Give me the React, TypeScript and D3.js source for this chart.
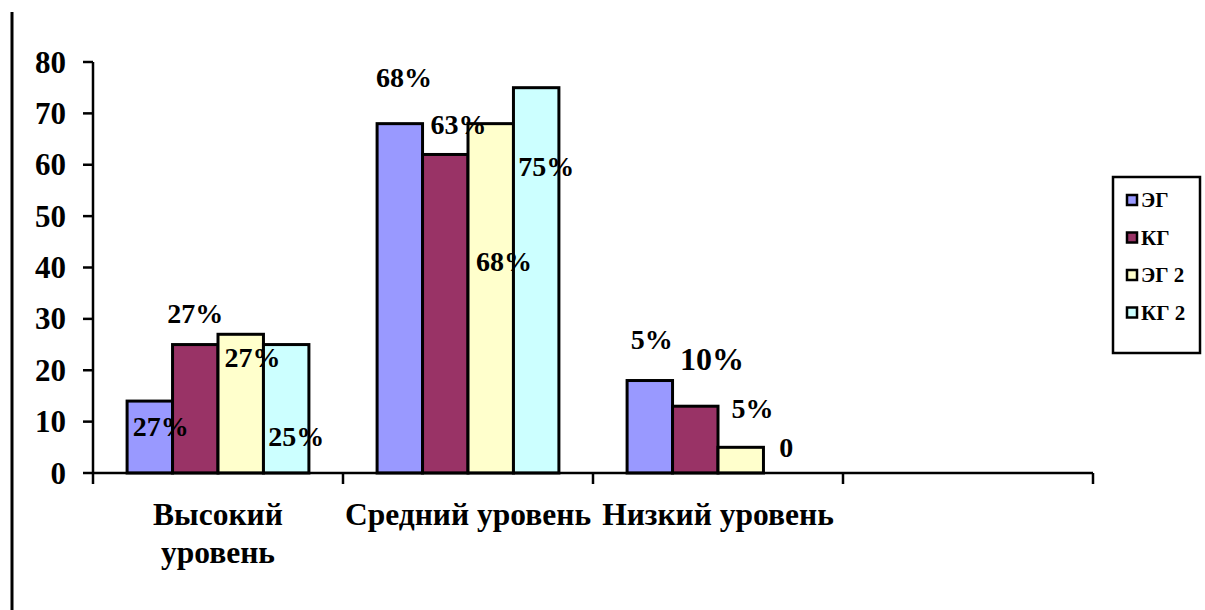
import React from "react";
import * as d3 from "d3";

// Categories along the x axis (the fourth slot is left empty)
const categories = ["Высокий уровень", "Средний уровень", "Низкий уровень", ""];
const categoryLines = [["Высокий", "уровень"], ["Средний уровень"], ["Низкий уровень"], []];

const seriesNames = ["ЭГ", "КГ", "ЭГ 2", "КГ 2"];
const seriesColors = ["#9999FF", "#993366", "#FFFFCC", "#CCFFFF"];

// Bar heights per series, one value per filled category
const valuesEG = [14, 68, 18];
const valuesKG = [25, 62, 13];
const valuesEG2 = [27, 68, 5];
const valuesKG2 = [25, 75, 0];

// Percentage captions attached to each bar
const labelsEG = ["27%", "68%", "5%"];
const labelsKG = ["27%", "63%", "10%"];
const labelsEG2 = ["27%", "68%", "5%"];
const labelsKG2 = ["25%", "75%", "0"];

// Where each caption sits: level on the value axis and shift in bar widths
const levelEG = [9.1, 76.9, 25.9];
const levelKG = [31.1, 67.9, 22.2];
const levelEG2 = [22.5, 41.2, 12.5];
const levelKG2 = [7.2, 59.7, 5.0];
const shiftEG = [0.24, 0.09, 0.04];
const shiftKG = [0, 0.29, 0.37];
const shiftEG2 = [0.26, 0.29, 0.26];
const shiftKG2 = [0.22, 0.22, 0];

const yTicks = [0, 10, 20, 30, 40, 50, 60, 70, 80];

const W = 1205;
const H = 610;
const FONT = '"Liberation Serif", "DejaVu Serif", "Times New Roman", serif';

export default function App() {
  const plot = { left: 93, right: 1093, top: 62, bottom: 473 };
  const x = d3.scaleBand<string>().domain(categories.map((c, i) => String(i))).range([plot.left, plot.right]).padding(0);
  const slot = x.bandwidth();
  const barW = slot / (4 + 1.5);
  const gap = 1.5 * barW;
  const xs = d3.scaleBand<string>().domain(seriesNames).range([gap / 2, slot - gap / 2]).padding(0);
  const y = d3.scaleLinear().domain([0, 80]).range([plot.bottom, plot.top]);

  const values = [valuesEG, valuesKG, valuesEG2, valuesKG2];
  const labels = [labelsEG, labelsKG, labelsEG2, labelsKG2];
  const levels = [levelEG, levelKG, levelEG2, levelKG2];
  const shifts = [shiftEG, shiftKG, shiftEG2, shiftKG2];

  const xTickPositions = categories.map((_, i) => x(String(i)) as number).concat([plot.right]);
  const txt = { fontFamily: FONT, fontWeight: 700 } as React.CSSProperties;

  return (
    <svg width={W} height={H} style={{ position: "absolute", left: 0, top: 0, background: "#fff" }}>
      {/* frame line at the left */}
      <line x1={12} x2={12} y1={12} y2={H} stroke="#000" strokeWidth={3} />

      {/* y axis */}
      <line x1={plot.left} x2={plot.left} y1={plot.top} y2={plot.bottom} stroke="#000" strokeWidth={2.5} />
      {yTicks.map((t) => (
        <g key={t}>
          <line x1={plot.left - 10} x2={plot.left} y1={y(t)} y2={y(t)} stroke="#000" strokeWidth={2.5} />
          <text x={66} y={y(t)} textAnchor="end" dominantBaseline="central" fontSize={31} style={txt}>
            {t}
          </text>
        </g>
      ))}

      {/* bars */}
      {seriesNames.map((s, si) =>
        values[si].map((v, ci) => {
          if (v === 0) return null;
          const bx = (x(String(ci)) as number) + (xs(s) as number);
          return (
            <rect
              key={s + ci}
              x={bx}
              y={y(v)}
              width={xs.bandwidth()}
              height={y(0) - y(v)}
              fill={seriesColors[si]}
              stroke="#000"
              strokeWidth={3}
            />
          );
        })
      )}

      {/* x axis */}
      <line x1={plot.left} x2={plot.right} y1={plot.bottom} y2={plot.bottom} stroke="#000" strokeWidth={2.5} />
      {xTickPositions.map((p, i) => (
        <line key={i} x1={p} x2={p} y1={plot.bottom} y2={plot.bottom + 11} stroke="#000" strokeWidth={2.5} />
      ))}

      {/* captions */}
      {seriesNames.map((s, si) =>
        labels[si].map((lab, ci) => {
          const cx = (x(String(ci)) as number) + (xs(s) as number) + xs.bandwidth() / 2 + shifts[si][ci] * xs.bandwidth();
          return (
            <text
              key={"l" + s + ci}
              x={cx}
              y={y(levels[si][ci])}
              textAnchor="middle"
              dominantBaseline="central"
              fontSize={lab === "10%" ? 32 : 28}
              style={txt}
            >
              {lab}
            </text>
          );
        })
      )}

      {/* category labels */}
      {categoryLines.map((lines, ci) =>
        lines.map((ln, li) => (
          <text
            key={"c" + ci + li}
            x={(x(String(ci)) as number) + slot / 2}
            y={514 + li * 38}
            textAnchor="middle"
            dominantBaseline="central"
            fontSize={31.5}
            style={txt}
          >
            {ln}
          </text>
        ))
      )}

      {/* legend */}
      <rect x={1113} y={177} width={87} height={176} fill="#fff" stroke="#000" strokeWidth={2.5} />
      {seriesNames.map((s, i) => (
        <g key={"lg" + s} transform={`translate(1127, ${200 + i * 37.5})`}>
          <rect x={0} y={-5} width={10} height={10} fill={seriesColors[i]} stroke="#000" strokeWidth={2.5} />
          <text x={14} y={0} dominantBaseline="central" fontSize={21} style={txt}>
            {s}
          </text>
        </g>
      ))}
    </svg>
  );
}
